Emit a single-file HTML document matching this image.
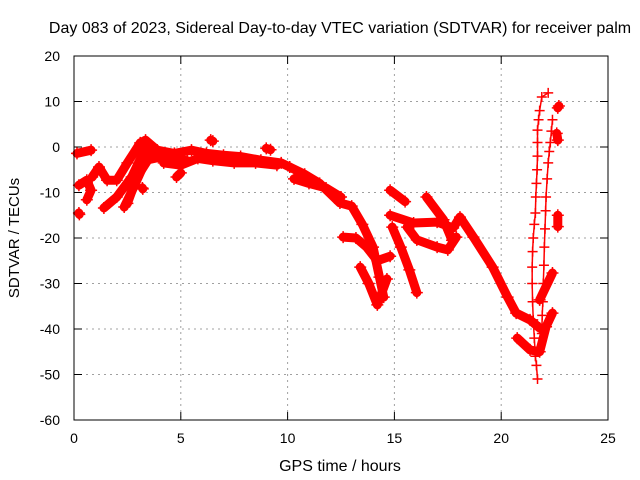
<!DOCTYPE html>
<html><head><meta charset="utf-8"><style>
body{margin:0;background:#fff;}
svg{display:block;font-family:"Liberation Sans",sans-serif;}
</style></head><body>
<svg id="chart" width="640" height="480" viewBox="0 0 640 480">
<text x="340" y="33" font-size="16" text-anchor="middle">Day 083 of 2023, Sidereal Day-to-day VTEC variation (SDTVAR) for receiver palm</text>
<text x="340" y="471" font-size="16" text-anchor="middle">GPS time / hours</text>
<text x="19" y="238" font-size="15" text-anchor="middle" transform="rotate(-90 19 238)">SDTVAR / TECUs</text>
<g id="grid"></g>
<g id="ticks"></g>
<g id="marks"></g>
<rect x="74" y="56" width="534" height="364" fill="none" stroke="#000" stroke-width="1"/>
</svg>
<script>
const xTicks=[0,5,10,15,20,25];
const yTicks=[20,10,0,-10,-20,-30,-40,-50,-60];
// tracks: [hour, value]
const trackMainArc=[[0.85,-6.6],[1.17,-4.4],[1.55,-7.3],[2.0,-7.3],[2.5,-3.5],[3.1,0.9],[3.35,1.5],[3.9,-0.7],[4.7,-1.4],[5.5,-0.7],[6.2,-1.4],[7.0,-1.8],[7.8,-2.1],[8.75,-2.9],[9.7,-3.5],[10.1,-4.4]];
const trackArcLow=[[4.2,-3.5],[5.0,-4],[5.8,-2.5],[6.5,-3],[7.5,-3.5],[8.5,-3.5],[9.5,-4]];
const trackLeftA=[[0.14,-1.4],[0.8,-0.7]];
const trackLeftB=[[0.23,-8.4],[0.6,-7.3],[0.8,-9.5],[0.6,-11.6]];
const trackLeftC=[[0.23,-14.5],[0.25,-14.8]];
const trackRise1=[[1.4,-13.4],[2.0,-11],[2.7,-6.6],[3.3,-0.7],[3.7,-2.2],[4.5,-2.5],[5.3,-3]];
const trackRise2=[[2.35,-13.2],[2.8,-8.8],[3.37,-2.9],[4.07,-2.2]];
const trackRise3=[[2.5,-12.4],[2.95,-6.6],[3.4,-3.3]];
const trackBitA=[[3.2,-9],[3.22,-9.2]];
const trackBitB=[[4.8,-6.6],[5.0,-5.7]];
const trackBitC=[[6.4,1.5],[6.5,1.3]];
const trackBitD=[[9.0,-0.3],[9.2,-0.6]];
const trackB1=[[10.1,-4.4],[10.8,-6],[11.5,-8],[12.45,-12.3],[13.0,-13],[13.5,-17],[14.0,-22],[14.3,-28.6],[14.5,-33]];
const trackB1b=[[10.3,-7],[11.0,-8],[11.8,-9],[12.5,-11]];
const trackB2=[[12.6,-19.8],[13.2,-20],[13.7,-22],[14.2,-25],[14.8,-24]];
const trackB3=[[13.4,-26.4],[13.8,-30],[14.2,-34.7],[14.65,-29]];
const trackB4=[[14.9,-17.6],[15.3,-22],[15.7,-27],[16.05,-32]];
const trackB5=[[14.8,-9.5],[15.5,-12]];
const trackB6=[[14.8,-15],[15.9,-16.7],[17.0,-16.5],[17.75,-17.8],[18.07,-15.4],[18.7,-19.8],[19.6,-26.4],[20.3,-33],[20.7,-36.5],[21.35,-38],[21.8,-39.8]];
const trackB7=[[16.5,-11],[17.3,-16],[17.7,-20.5]];
const trackB8=[[15.6,-17.6],[16.05,-20.4],[17.0,-22],[17.5,-22.6],[17.9,-19.8]];
const trackC2=[[20.75,-42],[21.35,-44.6],[21.8,-45],[22.1,-39.5],[22.4,-36.5]];
const trackC4=[[21.8,-33.6],[22.4,-27.7]];
const trackC5=[[21.7,-51],[21.65,-48],[21.6,-46],[21.55,-42],[21.5,-38],[21.47,-34],[21.45,-30],[21.45,-26.4],[21.47,-23],[21.5,-20],[21.55,-17],[21.6,-14.5],[21.62,-11],[21.65,-8],[21.68,-5],[21.7,-2],[21.7,1],[21.7,3.7],[21.75,6],[21.8,8],[21.9,11],[22.2,11.9]];
const trackC6=[[21.9,-41],[21.92,-37],[21.95,-34],[21.97,-30],[22.0,-26],[22.02,-22],[22.05,-18],[22.08,-14],[22.1,-11],[22.15,-7],[22.2,-3.5],[22.25,-1],[22.3,1],[22.35,3.5],[22.4,6]];
const trackC7=[[22.65,8.6],[22.7,9]];
const trackC8=[[22.6,3],[22.65,1.5]];
const trackC9=[[22.65,-15],[22.65,-17.5]];

const X=h=>74+h*(534/25);
const Y=v=>56+(20-v)*(364/80);
const NS='http://www.w3.org/2000/svg';
const grid=document.getElementById('grid'),ticks=document.getElementById('ticks'),marks=document.getElementById('marks');
function mk(tag,attrs,parent){const e=document.createElementNS(NS,tag);for(const k in attrs)e.setAttribute(k,attrs[k]);parent.appendChild(e);return e;}
xTicks.forEach(t=>{
  if(t>0&&t<25){const g=mk('line',{x1:X(t),x2:X(t),y1:56,y2:420,stroke:'#a0a0a0','stroke-dasharray':'2,4'},grid);
  
  }
  mk('line',{x1:X(t),x2:X(t),y1:420,y2:412,stroke:'#000'},ticks);
  mk('line',{x1:X(t),x2:X(t),y1:56,y2:64,stroke:'#000'},ticks);
  const l=mk('text',{x:X(t),y:443,'font-size':14,'text-anchor':'middle'},ticks);l.textContent=t;
  
  
});
yTicks.forEach(t=>{
  if(t<20&&t>-60){const g=mk('line',{x1:74,x2:608,y1:Y(t),y2:Y(t),stroke:'#a0a0a0','stroke-dasharray':'2,4'},grid);
  
  }
  mk('line',{x1:74,x2:82,y1:Y(t),y2:Y(t),stroke:'#000'},ticks);
  mk('line',{x1:600,x2:608,y1:Y(t),y2:Y(t),stroke:'#000'},ticks);
  const l=mk('text',{x:60,y:Y(t)+5,'font-size':14,'text-anchor':'end'},ticks);l.textContent=t;
  
  
});
const bands=[trackMainArc,trackArcLow,trackLeftA,trackLeftB,trackLeftC,trackRise1,trackRise2,trackRise3,trackBitA,trackBitB,trackBitC,trackBitD,trackB1,trackB1b,trackB2,trackB3,trackB4,trackB5,trackB6,trackB7,trackB8,trackC2,trackC4,trackC7,trackC8,trackC9];
const thin=[trackC5,trackC6];
function draw(tr,w,s){
  const p=mk('polyline',{points:tr.map(d=>X(d[0])+','+Y(d[1])).join(' '),fill:'none',stroke:'#f00','stroke-width':w,'stroke-linecap':'round','stroke-linejoin':'round'},marks);
  
  
  tr.forEach(d=>{const x=X(d[0]),y=Y(d[1]);
    const m=mk('path',{d:`M${x-s},${y}H${x+s}M${x},${y-s}V${y+s}`,stroke:'#f00','stroke-width':1.5},marks);
    
    
  });
}
bands.forEach(t=>draw(t,9,6));
thin.forEach(t=>draw(t,1.5,5));
</script>
</body></html>
